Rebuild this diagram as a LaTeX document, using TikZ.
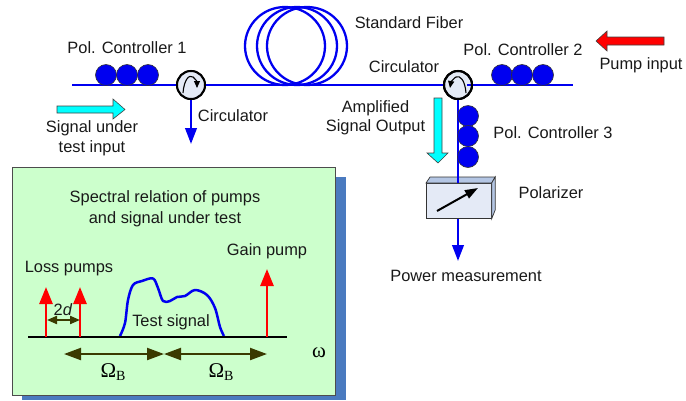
\documentclass[tikz,border=0pt]{standalone}
\usepackage{fontspec}
\setmainfont{Liberation Sans}
\newfontfamily\serifgreek{Liberation Serif}
\usetikzlibrary{arrows.meta}
\definecolor{fib}{HTML}{0000F0}
\definecolor{olivedk}{HTML}{3A3A00}
\definecolor{panel}{HTML}{CCFFCC}
\definecolor{shadowblue}{HTML}{4A7ABF}
\definecolor{boxface}{HTML}{E4EAF6}
\definecolor{boxside}{HTML}{B4C6E4}
\definecolor{cyanfill}{HTML}{00FFFF}
\tikzset{
  x=1pt,y=-1pt,
  lbl/.style={font=\fontsize{16.4pt}{18pt}\selectfont,inner sep=0pt,text=black!90},
  fibre/.style={draw=fib,line width=2.5pt},
  fibrearrow/.style={fibre,-{Triangle[length=16pt,width=11.5pt]}},
  loopf/.style={draw=fib,line width=2.3pt,fill=none},
  paddle/.style={circle,draw=black!80,line width=0.6pt,fill=fib,minimum size=21pt,inner sep=0pt},
  circ/.style={circle,draw=black,line width=2pt,fill=boxface,minimum size=28pt,inner sep=0pt},
  turn/.style={draw=black,line width=1.1pt,-{Triangle[length=7pt,width=6pt]}},
  redup/.style={draw=red,line width=2.6pt,-{Triangle[length=17pt,width=13pt]}},
  dim/.style={draw=olivedk,line width=2.2pt,{Triangle[length=17pt,width=12pt]}-{Triangle[length=17pt,width=12pt]}},
  dimsmall/.style={draw=olivedk,line width=2pt,{Triangle[length=10pt,width=8pt]}-{Triangle[length=10pt,width=8pt]}},
  blockarrow/.style={line width=0.6pt,draw=black!75},
}
\begin{document}
\begin{tikzpicture}
\useasboundingbox (0,0) rectangle (686,400);
% free ends
\coordinate (fl) at (72,85);
\coordinate (fr) at (573,85);
\coordinate (c1out) at (191,144);
\coordinate (pmout) at (458,261);
% fibre loops
\draw[loopf] (285,46) ellipse [x radius=40,y radius=39];
\draw[loopf] (297,46) ellipse [x radius=40,y radius=39];
\draw[loopf] (307,46) ellipse [x radius=40,y radius=39];
% circulators
\node[circ] (c1) at (191,85) {};
\node[circ] (c2) at (458,85) {};
\draw[fibre] (fl) -- (c1);
\draw[fibre] (c1) -- (c2);
\draw[fibre] (c2) -- (fr);
\draw[fibrearrow] (c1) -- (c1out);
% redraw circulators on top
\node[circ] at (191,85) {};
\node[circ] at (458,85) {};
\draw[fibre] (c2.center)++(9,0) -- (c2.east);
\draw[turn] (183,93) .. controls (184,80) and (189,74) .. (193,77) .. controls (195,78) and (197,82) .. (197,88);
\draw[turn] (466,93) .. controls (465,80) and (460,75) .. (456,77) .. controls (454,78) and (451,82) .. (450,88);
% polarizer
\node[draw=black!80,line width=0.7pt,fill=boxface,minimum width=65pt,minimum height=35pt,inner sep=0pt,anchor=north west] (pol) at (426,183) {};
\draw[black!80,line width=0.7pt,fill=boxside] (pol.north west) -- ++(4,-6) -- ++(65,0) -- (pol.north east) -- cycle;
\draw[black!80,line width=0.7pt,fill=boxside] (pol.north east) -- ++(3.5,-6) -- ++(0,33) -- (pol.south east) -- cycle;
\draw[line width=2pt,-{Triangle[length=13pt,width=9pt]}] (437,211) -- (478,188);
\draw[fibre] (c2) -- (pol.north -| c2);
\draw[fibrearrow] (pol.south -| c2) -- (pmout);
\node[circ,fill=none] at (458,85) {};
% paddles
\node[paddle] (p11) at (106,75) {};
\node[paddle] (p12) at (127,75) {};
\node[paddle] (p13) at (148,75) {};
\node[paddle] (p21) at (502,75) {};
\node[paddle] (p22) at (522,75) {};
\node[paddle] (p23) at (543,75) {};
\node[paddle] (p31) at (468,116) {};
\node[paddle] (p32) at (468,136) {};
\node[paddle] (p33) at (468,157) {};
% block arrows
\draw[blockarrow,fill=cyanfill] (57,106) -- (113,106) -- (113,99) -- (125,109.5) -- (113,119) -- (113,113) -- (57,113) -- cycle;
\draw[blockarrow,fill=cyanfill] (434,98) -- (442,98) -- (442,153) -- (448,153) -- (438,163) -- (427,153) -- (434,153) -- cycle;
\draw[blockarrow,fill=red] (664,37) -- (607,37) -- (607,31) -- (596,41) -- (607,51) -- (607,45) -- (664,45) -- cycle;
% labels
\node[lbl] (t1) at (127,48) {Pol. Controller 1};
\node[lbl] (t2) at (523,50) {Pol. Controller 2};
\node[lbl] (t3) at (553,133) {Pol. Controller 3};
\node[lbl] (t4) at (409,23) {Standard Fiber};
\node[lbl] (t5) at (233,116) {Circulator};
\node[lbl] (t6) at (404,67) {Circulator};
\node[lbl] (t7) at (641,65) {Pump input};
\node[lbl] (t8) at (92,128) {Signal under};
\node[lbl] (t9) at (92,148) {test input};
\node[lbl] (t10) at (375.5,108) {Amplified};
\node[lbl] (t11) at (375.5,127) {Signal Output};
\node[lbl] (t12) at (551,193) {Polarizer};
\node[lbl] (t13) at (466,276) {Power measurement};
% panel
\fill[shadowblue] (22,177) rectangle (346,400);
\node[draw=black!70,line width=0.8pt,fill=panel,anchor=north west,minimum width=323pt,minimum height=228pt,inner sep=0pt] (panelbox) at (12,167) {};
\node[lbl] (s1) at (165,198) {Spectral relation of pumps};
\node[lbl] (s2) at (165,219) {and signal under test};
\node[lbl] (s3) at (267,251) {Gain pump};
\node[lbl] (s4) at (69,269) {Loss pumps};
\node[lbl] (s5) at (171,322) {Test signal};
\coordinate (a0) at (28,337);
\coordinate (a1) at (287,337);
\coordinate (l1b) at (46,337);
\coordinate (l1t) at (46,287);
\coordinate (l2b) at (80,337);
\coordinate (l2t) at (80,287);
\coordinate (gb) at (267,337);
\coordinate (gt) at (267,269);
\draw[fib,line width=2.5pt,line join=round] plot[smooth,tension=0.55] coordinates {(120,336) (125,323) (128,300) (133,285) (142,281) (153,278.5) (158,288) (163,301) (170,301) (177,297) (185,296) (195,290) (207,295) (215,308) (220,327) (224,336)};
\draw[black,line width=2.2pt] (a0) -- (a1);
\draw[redup] (l1b) -- (l1t);
\draw[redup] (l2b) -- (l2t);
\draw[redup] (gb) -- (gt);
\coordinate (d1) at (47,320);
\coordinate (d2) at (80,320);
\draw[dimsmall] (d1) -- (d2);
\node[lbl] (s6) at (63,310) {2\textit{d}};
\coordinate (o1) at (64,354);
\coordinate (o2) at (164,354);
\coordinate (o3) at (267,354);
\draw[dim] (o1) -- (o2);
\draw[dim] (o2) -- (o3);
\node[inner sep=0pt,font=\serifgreek\fontsize{21pt}{22pt}\selectfont] (s7) at (113,372) {Ω\raisebox{-3pt}{\fontsize{14pt}{15pt}\selectfont B}};
\node[inner sep=0pt,font=\serifgreek\fontsize{21pt}{22pt}\selectfont] (s8) at (221,372) {Ω\raisebox{-3pt}{\fontsize{14pt}{15pt}\selectfont B}};
\node[inner sep=0pt,font=\serifgreek\fontsize{21pt}{22pt}\selectfont] (s9) at (319,353) {ω};
\end{tikzpicture}
\end{document}
